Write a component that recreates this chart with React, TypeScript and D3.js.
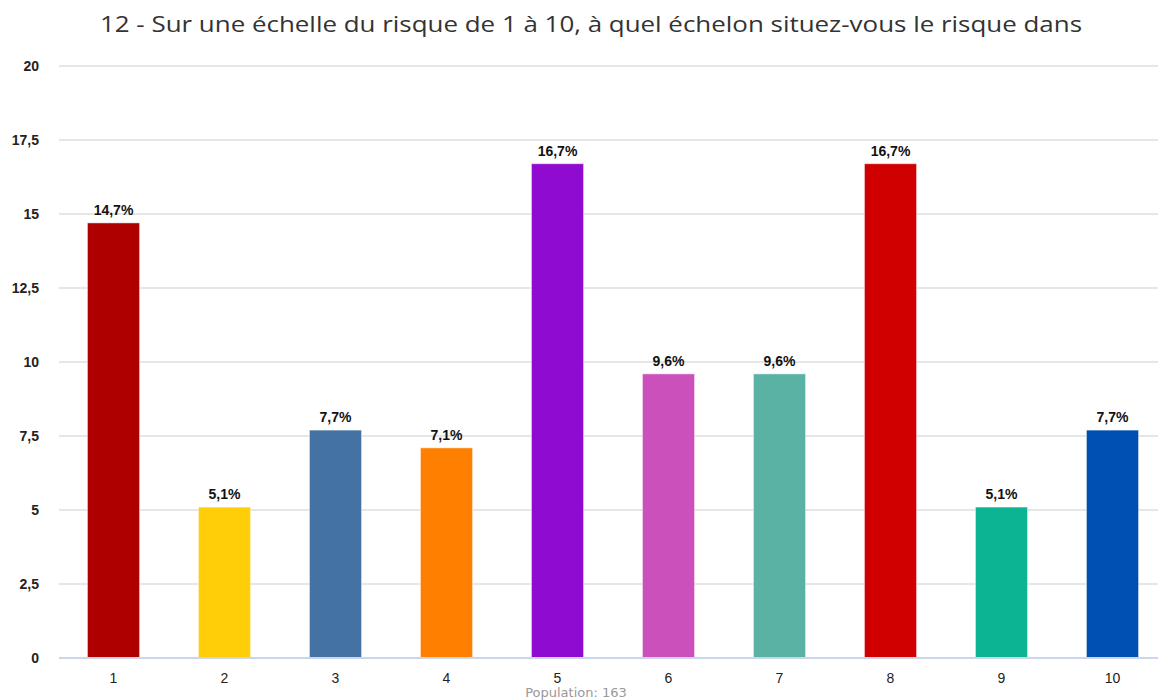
import React from "react";
import * as d3 from "d3";

const categories = ["1", "2", "3", "4", "5", "6", "7", "8", "9", "10"];
const values = [14.7, 5.1, 7.7, 7.1, 16.7, 9.6, 9.6, 16.7, 5.1, 7.7];
const colors = ["#af0000", "#ffce08", "#4472a4", "#ff8000", "#8e0bcf", "#cc50bc", "#5ab2a5", "#d00000", "#0cb494", "#0050b4"];
const yTicks = [0, 2.5, 5, 7.5, 10, 12.5, 15, 17.5, 20];
const title = "12 - Sur une échelle du risque de 1 à 10, à quel échelon situez-vous le risque dans";
const population = "Population: 163";

const W = 1158, H = 700;
const left = 59, right = 1158, top = 66, bottom = 658;

const fmt = (v: number) => String(v).replace(".", ",");

export default function App() {
  const x = d3.scaleBand().domain(categories).range([58, 1168]).paddingInner(0.53).paddingOuter(0.265);
  const y = d3.scaleLinear().domain([0, 20]).range([bottom, top]);
  return (
    <svg width={W} height={H} style={{ position: "absolute", left: 0, top: 0 }} fontFamily="'Liberation Sans', Arial, sans-serif">
      <rect width={W} height={H} fill="#fff" />
      <text x={591} y={32} textAnchor="middle" fontFamily="'Open Sans', sans-serif" fontSize={22} fill="#333"
        textLength={982} lengthAdjust="spacingAndGlyphs">{title}</text>
      {yTicks.map((t) => (
        <g key={t}>
          {t !== 0 && <line x1={left} x2={right} y1={y(t)} y2={y(t)} stroke="#e6e6e6" strokeWidth={2} />}
          <text x={39} y={y(t) + 5} textAnchor="end" fontSize={14} fontWeight="bold" fill="#222">{fmt(t)}</text>
        </g>
      ))}
      {categories.map((c, i) => (
        <g key={c}>
          <rect x={x(c)!} y={y(values[i])} width={x.bandwidth()} height={bottom - y(values[i])}
            fill={colors[i]} stroke="#fff" strokeOpacity={0.5} strokeWidth={1} />
          <text x={x(c)! + x.bandwidth() / 2} y={y(values[i]) - 8} textAnchor="middle" fontSize={14} fontWeight="bold" fill="#111">{fmt(values[i])}%</text>
          <text x={x(c)! + x.bandwidth() / 2} y={683} textAnchor="middle" fontSize={14} fill="#222">{c}</text>
        </g>
      ))}
      <line x1={left} x2={right} y1={bottom} y2={bottom} stroke="#ccd6eb" strokeWidth={2} />
      <text x={576} y={697} textAnchor="middle" fontFamily="'DejaVu Sans', sans-serif" fontSize={13} fill="#999">{population}</text>
    </svg>
  );
}
